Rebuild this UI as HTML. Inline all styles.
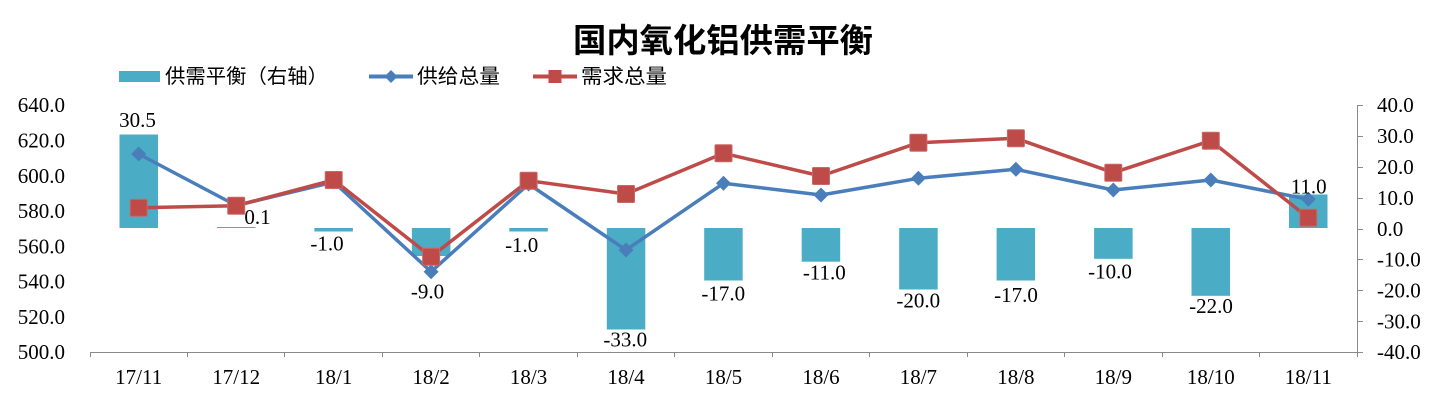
<!DOCTYPE html>
<html><head><meta charset="utf-8"><style>
html,body{margin:0;padding:0;background:#fff;}
svg{display:block;}
.n{font-family:"Liberation Serif",serif;font-size:21px;fill:#000;}
.c{font-family:"Liberation Sans","Noto Sans CJK SC",sans-serif;fill:#000;}
</style></head><body>
<svg width="1443" height="403" viewBox="0 0 1443 403" xmlns="http://www.w3.org/2000/svg">
<rect width="1443" height="403" fill="#fff"/>
<text class="c" x="723" y="52" text-anchor="middle" font-size="33" font-weight="bold" textLength="300" lengthAdjust="spacingAndGlyphs">国内氧化铝供需平衡</text>
<!-- legend -->
<rect x="119" y="71" width="41" height="11" fill="#4BACC6"/>
<text class="c" x="165" y="83" font-size="20" textLength="163" lengthAdjust="spacingAndGlyphs">供需平衡（右轴）</text>
<line x1="369" y1="76.5" x2="413" y2="76.5" stroke="#4A7EBB" stroke-width="4"/>
<polygon points="391,70 397.5,76.5 391,83 384.5,76.5" fill="#4A7EBB"/>
<text class="c" x="417" y="83" font-size="20" textLength="83" lengthAdjust="spacingAndGlyphs">供给总量</text>
<line x1="533" y1="76.5" x2="577" y2="76.5" stroke="#BE4B48" stroke-width="4"/>
<rect x="548.5" y="70" width="13" height="13" fill="#BE4B48"/>
<text class="c" x="581" y="83" font-size="20" textLength="86" lengthAdjust="spacingAndGlyphs">需求总量</text>
<!-- axes -->
<g stroke="#898989" stroke-width="1" fill="none">
<line x1="90" y1="352.5" x2="1357" y2="352.5"/>
<line x1="1357.5" y1="105" x2="1357.5" y2="352.5"/>
<path d="M90.5 352v5M187.5 352v5M284.5 352v5M382.5 352v5M479.5 352v5M577.5 352v5M674.5 352v5M772.5 352v5M869.5 352v5M967.5 352v5M1064.5 352v5M1162.5 352v5M1259.5 352v5M1357.5 352v5"/>
<path d="M1357 105.5h6M1357 136.5h6M1357 167.5h6M1357 198.5h6M1357 229.5h6M1357 259.5h6M1357 290.5h6M1357 321.5h6M1357 352.5h6"/>
</g>
<!-- left labels -->
<g class="n" text-anchor="end">
<text x="65" y="112">640.0</text>
<text x="65" y="147.5">620.0</text>
<text x="65" y="182.8">600.0</text>
<text x="65" y="218">580.0</text>
<text x="65" y="253.3">560.0</text>
<text x="65" y="288.5">540.0</text>
<text x="65" y="323.8">520.0</text>
<text x="65" y="359">500.0</text>
</g>
<!-- right labels -->
<g class="n">
<text x="1377" y="112">40.0</text>
<text x="1377" y="143">30.0</text>
<text x="1377" y="174">20.0</text>
<text x="1377" y="205">10.0</text>
<text x="1377" y="236">0.0</text>
<text x="1377" y="266.5">-10.0</text>
<text x="1377" y="297.5">-20.0</text>
<text x="1377" y="328.5">-30.0</text>
<text x="1377" y="359">-40.0</text>
</g>
<!-- category labels -->
<g class="n" text-anchor="middle">
<text x="138.7" y="384">17/11</text>
<text x="236.2" y="384">17/12</text>
<text x="333.7" y="384">18/1</text>
<text x="431.1" y="384">18/2</text>
<text x="528.6" y="384">18/3</text>
<text x="626" y="384">18/4</text>
<text x="723.5" y="384">18/5</text>
<text x="821" y="384">18/6</text>
<text x="918.4" y="384">18/7</text>
<text x="1015.9" y="384">18/8</text>
<text x="1113.3" y="384">18/9</text>
<text x="1210.8" y="384">18/10</text>
<text x="1308.3" y="384">18/11</text>
</g>
<!-- bars -->
<g fill="#4BACC6">
<rect x="119.5" y="134.5" width="38.5" height="93.5"/>
<rect x="216.9" y="227" width="38.5" height="1"/>
<rect x="314.4" y="228" width="38.5" height="3.5"/>
<rect x="411.9" y="228" width="38.5" height="28"/>
<rect x="509.3" y="228" width="38.5" height="3.5"/>
<rect x="606.8" y="228" width="38.5" height="101.5"/>
<rect x="704.2" y="228" width="38.5" height="52.5"/>
<rect x="801.7" y="228" width="38.5" height="33.7"/>
<rect x="899.2" y="228" width="38.5" height="61.5"/>
<rect x="996.6" y="228" width="38.5" height="52.5"/>
<rect x="1094.1" y="228" width="38.5" height="30.8"/>
<rect x="1191.5" y="228" width="38.5" height="67.8"/>
<rect x="1289" y="194.5" width="38.5" height="33.5"/>
</g>
<!-- supply line -->
<polyline fill="none" stroke="#4A7EBB" stroke-width="3.5" stroke-linejoin="round" points="138.7,154 236.2,205.5 333.7,182 431.1,271.7 528.6,184 626,250 723.5,183.3 821,195 918.4,178.3 1015.9,169.3 1113.3,190 1210.8,180 1308.3,199.3"/>
<g fill="#4A7EBB">
<polygon points="138.7,146.5 146.2,154 138.7,161.5 131.2,154"/>
<polygon points="236.2,198 243.7,205.5 236.2,213 228.7,205.5"/>
<polygon points="333.7,174.5 341.2,182 333.7,189.5 326.2,182"/>
<polygon points="431.1,264.2 438.6,271.7 431.1,279.2 423.6,271.7"/>
<polygon points="528.6,176.5 536.1,184 528.6,191.5 521.1,184"/>
<polygon points="626,242.5 633.5,250 626,257.5 618.5,250"/>
<polygon points="723.5,175.8 731,183.3 723.5,190.8 716,183.3"/>
<polygon points="821,187.5 828.5,195 821,202.5 813.5,195"/>
<polygon points="918.4,170.8 925.9,178.3 918.4,185.8 910.9,178.3"/>
<polygon points="1015.9,161.8 1023.4,169.3 1015.9,176.8 1008.4,169.3"/>
<polygon points="1113.3,182.5 1120.8,190 1113.3,197.5 1105.8,190"/>
<polygon points="1210.8,172.5 1218.3,180 1210.8,187.5 1203.3,180"/>
<polygon points="1308.3,191.8 1315.8,199.3 1308.3,206.8 1300.8,199.3"/>
</g>
<!-- demand line -->
<polyline fill="none" stroke="#BE4B48" stroke-width="3.5" stroke-linejoin="round" points="138.7,207.7 236.2,205.7 333.7,180 431.1,256.7 528.6,180.7 626,194 723.5,153.3 821,176 918.4,142.7 1015.9,138.3 1113.3,172.7 1210.8,140.7 1308.3,217.7"/>
<g fill="#BE4B48" stroke="#C86A67" stroke-width="1">
<rect x="130.2" y="199.2" width="17" height="17" rx="1"/>
<rect x="227.7" y="197.2" width="17" height="17" rx="1"/>
<rect x="325.2" y="171.5" width="17" height="17" rx="1"/>
<rect x="422.6" y="248.2" width="17" height="17" rx="1"/>
<rect x="520.1" y="172.2" width="17" height="17" rx="1"/>
<rect x="617.5" y="185.5" width="17" height="17" rx="1"/>
<rect x="715" y="144.8" width="17" height="17" rx="1"/>
<rect x="812.5" y="167.5" width="17" height="17" rx="1"/>
<rect x="909.9" y="134.2" width="17" height="17" rx="1"/>
<rect x="1007.4" y="129.8" width="17" height="17" rx="1"/>
<rect x="1104.8" y="164.2" width="17" height="17" rx="1"/>
<rect x="1202.3" y="132.2" width="17" height="17" rx="1"/>
<rect x="1299.8" y="209.2" width="17" height="17" rx="1"/>
</g>
<!-- data labels -->
<g class="n" text-anchor="middle">
<text x="137.5" y="127">30.5</text>
<text x="257.5" y="224">0.1</text>
<text x="327" y="250.3">-1.0</text>
<text x="427.5" y="298.7">-9.0</text>
<text x="521.7" y="252">-1.0</text>
<text x="625.3" y="346.3">-33.0</text>
<text x="723.3" y="300.3">-17.0</text>
<text x="824.3" y="279.7">-11.0</text>
<text x="918.3" y="307.7">-20.0</text>
<text x="1016" y="302">-17.0</text>
<text x="1110" y="278.7">-10.0</text>
<text x="1211" y="313">-22.0</text>
<text x="1308.7" y="193.7">11.0</text>
</g>
</svg>
</body></html>
